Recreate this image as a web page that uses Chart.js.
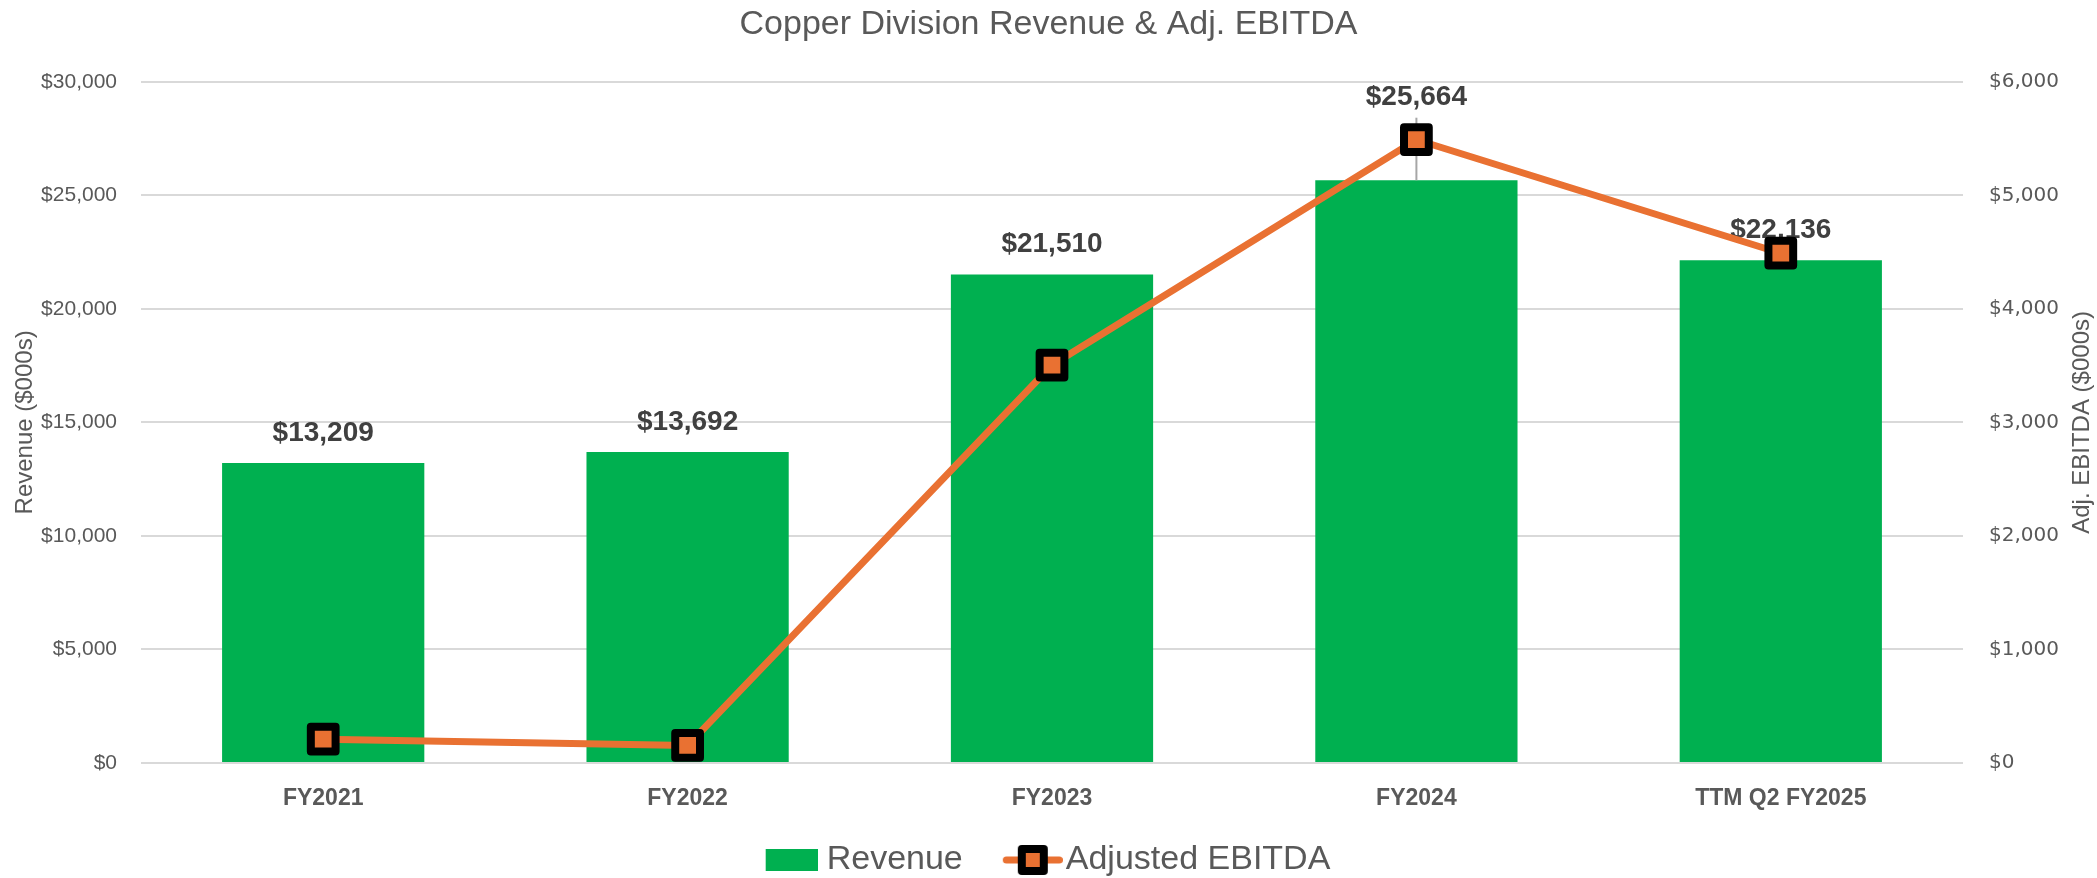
<!DOCTYPE html>
<html>
<head>
<meta charset="utf-8">
<script src="https://cdn.jsdelivr.net/npm/chart.js@4.4.1/dist/chart.umd.min.js"></script>
<style>
    html, body { margin: 0; padding: 0; background: #fff; }
    #wrap { width: 2097px; height: 878px; }
</style>
</head>
<body>
<div id="wrap"><canvas id="chart" width="2097" height="878"></canvas></div>
<script>
// data
const categories = ['FY2021', 'FY2022', 'FY2023', 'FY2024', 'TTM Q2 FY2025'];
const revenue = [13209, 13692, 21510, 25664, 22136];
const adjEbitda = [210, 155, 3505, 5490, 4490];
const revenueTicks = [0, 5000, 10000, 15000, 20000, 25000, 30000];
const ebitdaTicks = [0, 1000, 2000, 3000, 4000, 5000, 6000];

const GREEN = '#00B050';
const ORANGE = '#E97132';
const GREY = '#595959';
const FONT = '"Liberation Sans", Arial, sans-serif';

const money = v => '$' + Number(v).toLocaleString('en-US');

// legend icons (transparent margin on the left keeps the spacing of the reference)
const makeIcon = (w, h, draw) => {
    const c = document.createElement('canvas');
    c.width = w;
    c.height = h;
    draw(c.getContext('2d'));
    return c;
};
const revenueIcon = makeIcon(77, 22, ctx => {
    ctx.fillStyle = GREEN;
    ctx.fillRect(25, 0, 52, 22);
});
const ebitdaIcon = makeIcon(89, 30, ctx => {
    ctx.strokeStyle = ORANGE;
    ctx.lineWidth = 7;
    ctx.lineCap = 'round';
    ctx.beginPath();
    ctx.moveTo(32.5, 15);
    ctx.lineTo(85.5, 15);
    ctx.stroke();
    ctx.lineJoin = 'round';
    ctx.fillStyle = ORANGE;
    ctx.strokeStyle = '#000';
    ctx.lineWidth = 8;
    ctx.beginPath();
    ctx.rect(48, 4, 22, 22);
    ctx.fill();
    ctx.stroke();
});
const legendIcons = [revenueIcon, ebitdaIcon];

// value labels above the bars (moved up with a leader line when the marker is in the way)
const barLabels = {
    id: 'barLabels',
    beforeDatasetDraw(chart, args) {
        if (args.index === 1) chart.ctx.lineJoin = 'round';
    },
    afterDatasetDraw(chart, args) {
        if (args.index === 1) chart.ctx.lineJoin = 'miter';
        if (args.index !== 0) return;
        const ctx = chart.ctx;
        const bars = chart.getDatasetMeta(0).data;
        const points = chart.getDatasetMeta(1).data;
        ctx.save();
        ctx.font = 'bold 28px ' + FONT;
        ctx.fillStyle = '#404040';
        ctx.textAlign = 'center';
        ctx.textBaseline = 'middle';
        bars.forEach((bar, i) => {
            const pt = points[i];
            let y = bar.y - 30;
            if (pt && pt.y < bar.y - 30) {
                y = pt.y - 42;
                ctx.strokeStyle = '#A6A6A6';
                ctx.lineWidth = 2;
                ctx.beginPath();
                ctx.moveTo(bar.x, y + 20);
                ctx.lineTo(bar.x, bar.y);
                ctx.stroke();
            }
            ctx.fillText(money(revenue[i]), bar.x, y);
        });
        ctx.restore();
    }
};

// right axis title reads bottom-to-top like the left one
const rightTitle = {
    id: 'rightTitle',
    afterDraw(chart) {
        const s = chart.scales.y1;
        const ctx = chart.ctx;
        ctx.save();
        ctx.translate(s.right - 15, (s.top + s.bottom) / 2);
        ctx.rotate(-Math.PI / 2);
        ctx.font = '24px ' + FONT;
        ctx.fillStyle = GREY;
        ctx.textAlign = 'center';
        ctx.textBaseline = 'middle';
        ctx.fillText('Adj. EBITDA ($000s)', 0, 0);
        ctx.restore();
    }
};

// nudge the legend to where it sits in the reference
const legendShift = {
    id: 'legendShift',
    afterLayout(chart) {
        chart.legend.left -= 9;
        chart.legend.right -= 9;
    }
};

new Chart(document.getElementById('chart'), {
    type: 'bar',
    data: {
        labels: categories,
        datasets: [{
            type: 'bar',
            label: 'Revenue',
            data: revenue,
            backgroundColor: GREEN,
            yAxisID: 'y',
            categoryPercentage: 1,
            barPercentage: 0.555,
            order: 2
        }, {
            type: 'line',
            label: 'Adjusted EBITDA',
            data: adjEbitda,
            yAxisID: 'y1',
            borderColor: ORANGE,
            borderWidth: 7,
            tension: 0,
            pointStyle: 'rect',
            pointRadius: 17.5,
            pointBorderWidth: 8,
            pointBorderColor: '#000',
            pointBackgroundColor: ORANGE,
            order: 1
        }]
    },
    options: {
        responsive: false,
        animation: false,
        events: [],
        layout: {padding: {left: 0, right: 0, top: 0, bottom: -9}},
        plugins: {
            title: {
                display: true,
                text: 'Copper Division Revenue & Adj. EBITDA',
                color: GREY,
                font: {family: FONT, size: 34, weight: 'normal'},
                padding: {top: 4, bottom: 37}
            },
            legend: {
                position: 'bottom',
                labels: {
                    usePointStyle: true,
                    pointStyleWidth: 61,
                    boxHeight: 22,
                    padding: 25,
                    color: GREY,
                    font: {family: FONT, size: 34},
                    generateLabels: chart => chart.data.datasets.map((ds, i) => ({
                        text: ds.label,
                        pointStyle: legendIcons[i],
                        fillStyle: 'transparent',
                        strokeStyle: 'transparent',
                        lineWidth: 0,
                        fontColor: GREY,
                        hidden: false,
                        datasetIndex: i
                    }))
                }
            },
            tooltip: {enabled: false}
        },
        scales: {
            x: {
                grid: {display: false, drawTicks: false},
                border: {display: false},
                ticks: {
                    color: GREY,
                    padding: 22,
                    font: {family: FONT, size: 23, weight: 'bold'}
                },
                afterFit: s => { s.height = 55; }
            },
            y: {
                position: 'left',
                min: revenueTicks[0],
                max: revenueTicks[revenueTicks.length - 1],
                ticks: {
                    stepSize: revenueTicks[1] - revenueTicks[0],
                    color: GREY,
                    padding: 24,
                    font: {family: FONT, size: 21},
                    callback: v => money(v)
                },
                grid: {color: '#D9D9D9', lineWidth: 2, drawTicks: false},
                border: {display: false},
                title: {
                    display: true,
                    text: 'Revenue ($000s)',
                    color: GREY,
                    font: {family: FONT, size: 24},
                    padding: {top: 11, bottom: 0}
                },
                afterFit: s => { s.width = 141; }
            },
            y1: {
                position: 'right',
                min: ebitdaTicks[0],
                max: ebitdaTicks[ebitdaTicks.length - 1],
                ticks: {
                    stepSize: ebitdaTicks[1] - ebitdaTicks[0],
                    color: GREY,
                    padding: 26,
                    font: {family: '"DejaVu Sans", sans-serif', size: 20},
                    callback: v => money(v)
                },
                grid: {display: false, drawTicks: false},
                border: {display: false},
                afterFit: s => { s.width = 134; }
            }
        }
    },
    plugins: [barLabels, rightTitle, legendShift]
});
</script>
</body>
</html>
